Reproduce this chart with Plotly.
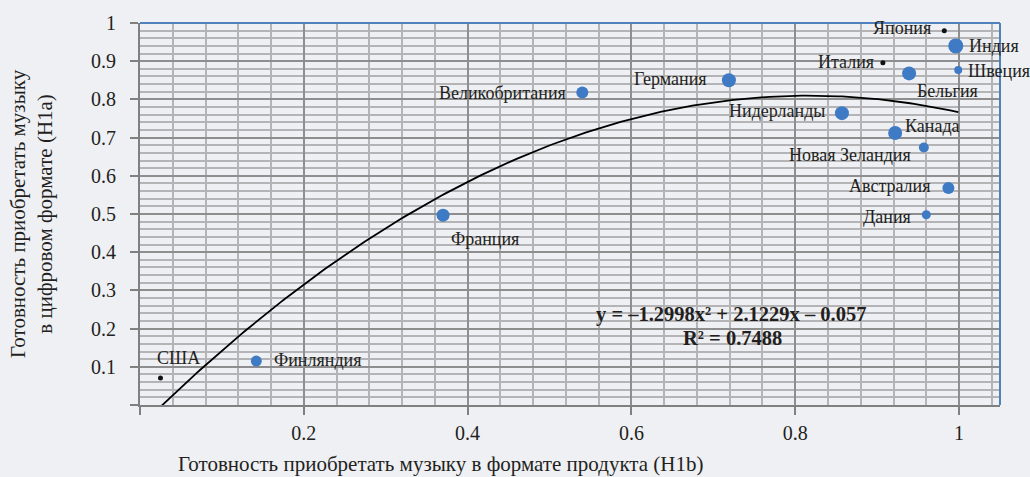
import numpy as np
import plotly.graph_objects as go

# ---- data ----
countries = ["США", "Финляндия", "Франция", "Великобритания", "Германия",
             "Нидерланды", "Канада", "Новая Зеландия", "Австралия", "Дания",
             "Япония", "Индия", "Италия", "Бельгия", "Швеция"]
h1b = [0.025, 0.142, 0.370, 0.540, 0.719, 0.857, 0.922, 0.957, 0.987, 0.960,
       0.982, 0.996, 0.907, 0.939, 0.999]
h1a = [0.071, 0.115, 0.497, 0.818, 0.850, 0.764, 0.712, 0.674, 0.568, 0.498,
       0.980, 0.940, 0.896, 0.868, 0.877]
trend_coef = [-1.2998, 2.1229, -0.057]
r_squared = 0.7488
x_ticks = [0, 0.2, 0.4, 0.6, 0.8, 1.0]
y_ticks = [0, 0.1, 0.2, 0.3, 0.4, 0.5, 0.6, 0.7, 0.8, 0.9, 1.0]

# ---- styles ----
BLUE = "#3f7ac4"
BLACK = "#111111"
marker_size = {"США": 5, "Финляндия": 11, "Франция": 13, "Великобритания": 12,
               "Германия": 14, "Нидерланды": 14, "Канада": 14, "Новая Зеландия": 10,
               "Австралия": 12, "Дания": 9, "Япония": 5, "Индия": 15,
               "Италия": 5, "Бельгия": 14, "Швеция": 8}
black_pts = {"США", "Япония", "Италия"}
# (xanchor, xshift, yshift)
label_pos = {"США": ("left", -5, 20), "Финляндия": ("left", 16, 1),
             "Франция": ("left", 6, -24), "Великобритания": ("right", -14, 0),
             "Германия": ("right", -20, 1), "Нидерланды": ("right", -15, 2),
             "Канада": ("left", 8, 7), "Новая Зеландия": ("right", -11, -7),
             "Австралия": ("right", -15, 2), "Дания": ("right", -13, -2),
             "Япония": ("right", -11, 3), "Индия": ("left", 11, 0),
             "Италия": ("right", -7, 1), "Бельгия": ("left", 6, -18),
             "Швеция": ("left", 8, -1)}

FONT = "Liberation Serif"
TXT = "#231f20"
BG = "#eff0f4"

fig = go.Figure()

# trendline from the chart's printed coefficients
xt = np.linspace(min(h1b), max(h1b), 200)
yt = np.polyval(trend_coef, xt)
fig.add_trace(go.Scatter(x=xt, y=yt, mode="lines",
                         line=dict(color="black", width=1.8),
                         hoverinfo="skip", showlegend=False))

fig.add_trace(go.Scatter(
    x=h1b, y=h1a, mode="markers", text=countries,
    marker=dict(size=[marker_size[c] for c in countries],
                color=[BLACK if c in black_pts else BLUE for c in countries],
                opacity=1, line=dict(width=0)),
    showlegend=False, cliponaxis=False))

annotations = []
for c, x, y in zip(countries, h1b, h1a):
    xa, xs, ys = label_pos[c]
    annotations.append(dict(x=x, y=y, xref="x", yref="y", text=c, showarrow=False,
                            xanchor=xa, yanchor="middle", xshift=xs, yshift=ys,
                            font=dict(family=FONT, size=18, color=TXT)))

a, b, c0 = trend_coef
eq = f"y = \u2013{abs(a):.4f}x\u00b2 + {b:.4f}x \u2013 {abs(c0):.3f}"
annotations.append(dict(x=0.722, y=0.236, xref="x", yref="y", text=f"<b>{eq}</b>",
                        showarrow=False, xanchor="center", yanchor="middle",
                        font=dict(family=FONT, size=20.5, color=TXT)))
annotations.append(dict(x=0.724, y=0.176, xref="x", yref="y",
                        text=f"<b>R\u00b2 = {r_squared:.4f}</b>",
                        showarrow=False, xanchor="center", yanchor="middle",
                        font=dict(family=FONT, size=20.5, color=TXT)))

annotations.append(dict(x=-0.1267, y=0.5, xref="paper", yref="paper",
                        text="Готовность приобретать музыку<br>в цифровом формате (H1a)",
                        textangle=-90, showarrow=False, xanchor="center", yanchor="middle",
                        font=dict(family=FONT, size=21, color=TXT)))
annotations.append(dict(x=0.35, y=-0.155, xref="paper", yref="paper",
                        text="Готовность приобретать музыку в формате продукта (H1b)",
                        showarrow=False, xanchor="center", yanchor="middle",
                        font=dict(family=FONT, size=21, color=TXT)))

shapes = [
    dict(type="line", xref="paper", yref="paper", x0=0, x1=1, y0=1, y1=1,
         line=dict(color="#4f81bd", width=2)),
    dict(type="line", xref="paper", yref="paper", x0=1, x1=1, y0=0, y1=1,
         line=dict(color="#4f81bd", width=2)),
]

fig.update_layout(
    width=1030, height=477,
    margin=dict(l=140, r=30, t=19, b=72),
    paper_bgcolor=BG, plot_bgcolor=BG,
    annotations=annotations, shapes=shapes,
    font=dict(family=FONT, color=TXT),
    xaxis=dict(range=[0, 1.05], tickvals=x_ticks,
               ticktext=["" if v == 0 else f"{v:g}" for v in x_ticks],
               ticks="outside", ticklen=8, tickcolor="#808080", tickwidth=1.5,
               ticklabelstandoff=1,
               showline=True, linecolor="#808080", linewidth=2,
               showgrid=True, gridcolor="#8e8e8e", gridwidth=1.5,
               minor=dict(tickmode="linear", tick0=0, dtick=0.04, showgrid=True,
                          gridcolor="#b4b4b6", gridwidth=1.5, ticks=""),
               zeroline=False, tickfont=dict(family=FONT, size=20, color=TXT)),
    yaxis=dict(range=[0, 1.0], tickvals=y_ticks,
               ticktext=["" if v == 0 else f"{v:g}" for v in y_ticks],
               ticks="outside", ticklen=8, tickcolor="#808080", tickwidth=1.5,
               ticklabelstandoff=10,
               showline=True, linecolor="#808080", linewidth=2,
               showgrid=True, gridcolor="#8e8e8e", gridwidth=1.5,
               minor=dict(tickmode="linear", tick0=0, dtick=0.02, showgrid=True,
                          gridcolor="#b4b4b6", gridwidth=1.5, ticks=""),
               zeroline=False, tickfont=dict(family=FONT, size=20, color=TXT)),
)

fig.write_html("out.html", config={"displayModeBar": False},
               post_script="document.body.style.margin='0';")
